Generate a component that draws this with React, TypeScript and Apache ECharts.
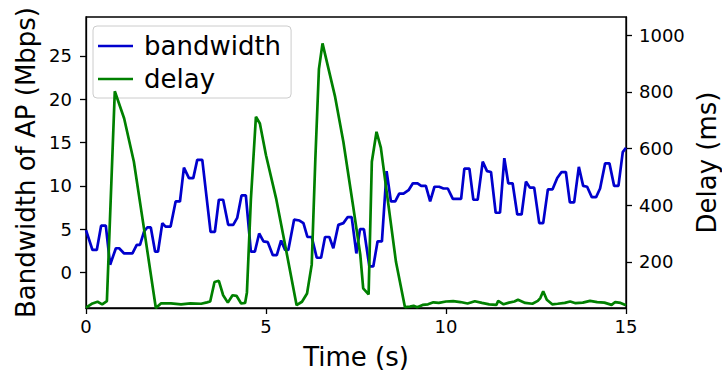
import React, { useEffect, useRef } from "react";
import * as echarts from "echarts";

// Bandwidth (Mbps) samples
const bwTime = [0,0.18,0.30,0.42,0.55,0.67,0.83,0.92,1.06,1.29,1.41,1.50,1.61,1.70,1.80,1.92,2.00,2.12,2.21,2.35,2.49,2.61,2.72,2.86,2.98,3.09,3.23,3.46,3.58,3.69,3.81,3.95,4.09,4.20,4.32,4.44,4.58,4.69,4.81,4.93,5.05,5.19,5.30,5.42,5.53,5.62,5.78,5.93,6.04,6.15,6.27,6.41,6.53,6.64,6.76,6.87,7.01,7.15,7.27,7.38,7.51,7.61,7.72,7.87,7.98,8.10,8.22,8.35,8.47,8.59,8.70,8.82,8.96,9.08,9.21,9.31,9.44,9.56,9.68,9.81,9.93,10.05,10.19,10.42,10.51,10.65,10.76,10.88,11.02,11.14,11.25,11.38,11.50,11.62,11.73,11.85,11.98,12.10,12.22,12.33,12.45,12.59,12.70,12.83,12.96,13.09,13.21,13.33,13.44,13.56,13.69,13.81,13.92,14.05,14.17,14.28,14.42,14.54,14.67,14.79,14.91,15.00];
const bwValues = [4.9,2.6,2.6,5.4,5.4,0.9,2.8,2.8,2.2,2.2,3.2,3.2,4.7,5.2,5.2,2.4,2.4,5.7,5.3,5.3,8.2,8.2,12.1,10.9,10.9,13.0,13.0,4.7,4.7,8.4,8.4,5.5,5.5,6.3,8.9,8.9,2.4,2.4,4.5,3.6,3.5,2.0,2.0,3.7,2.6,2.6,6.1,6.0,5.7,4.1,4.1,1.7,1.7,4.1,4.1,2.8,5.5,5.7,6.4,6.4,2.2,5.0,5.0,0.7,0.7,3.6,3.6,11.7,8.2,8.2,9.1,9.1,9.5,10.3,10.3,10.0,10.0,8.2,9.9,9.9,9.7,9.7,8.5,8.5,12.0,12.0,8.4,8.4,12.8,11.7,11.6,6.9,6.9,13.2,10.3,10.3,6.7,6.7,10.5,9.8,9.8,5.7,5.7,9.6,9.6,10.9,11.6,11.6,8.1,8.1,12.2,10.0,9.9,8.7,8.7,9.7,12.6,12.6,10.0,10.0,13.9,14.4];

// Delay (ms) samples
const delayTime = [0.00,0.18,0.32,0.45,0.58,0.80,1.06,1.33,1.61,1.94,2.08,2.36,2.64,2.90,3.20,3.36,3.45,3.57,3.69,3.81,3.94,4.07,4.18,4.31,4.42,4.47,4.58,4.72,4.83,5.00,5.28,5.55,5.85,6.00,6.14,6.27,6.37,6.47,6.57,6.92,7.15,7.43,7.62,7.70,7.85,7.94,8.07,8.19,8.37,8.61,8.86,9.00,9.10,9.20,9.35,9.50,9.65,9.80,10.00,10.20,10.40,10.60,10.80,11.00,11.20,11.40,11.45,11.60,11.75,11.90,12.00,12.20,12.40,12.55,12.62,12.70,12.80,12.95,13.10,13.30,13.45,13.60,13.80,14.00,14.20,14.40,14.60,14.70,14.85,15.00];
const delayValues = [38,53,59,50,61,802,706,553,318,37,53,53,50,53,52,57,60,129,133,82,56,82,80,53,55,92,420,712,688,576,424,247,47,59,88,190,560,880,971,782,623,388,224,106,85,553,659,603,430,200,40,42,45,40,48,50,57,55,60,61,58,53,61,55,50,48,62,50,56,60,66,55,52,62,72,96,66,50,52,55,60,54,56,62,58,56,48,58,55,47];

const xTicks = [0, 5, 10, 15];
const bwTicks = [0, 5, 10, 15, 20, 25];
const delayTicks = [200, 400, 600, 800, 1000];

const FONT = "DejaVu Sans";

export default function App() {
  const ref = useRef<HTMLDivElement>(null);
  useEffect(() => {
    if (!ref.current) return;
    const chart = echarts.init(ref.current, null, { renderer: "svg" });
    const axisLineStyle = { color: "#000", width: 1.3 };
    chart.setOption({
      animation: false,
      backgroundColor: "#fff",
      grid: {
        left: 86,
        right: 96,
        top: 17,
        bottom: 68,
        show: true,
        borderColor: "#000",
        borderWidth: 1.3,
        containLabel: false,
        outerBoundsMode: "none",
      },
      legend: {
        orient: "vertical",
        left: 93,
        top: 26,
        icon: "rect",
        itemWidth: 35,
        itemHeight: 2.7,
        itemGap: 5,
        padding: [6, 10, 5, 5],
        backgroundColor: "rgba(255,255,255,0.8)",
        borderColor: "#cccccc",
        borderWidth: 1,
        borderRadius: 4,
        z: 4,
        textStyle: {
          fontFamily: FONT,
          fontSize: 26,
          color: "#000",
          lineHeight: 28,
          padding: [0, 0, 0, 6],
        },
        data: ["bandwidth", "delay"],
      },
      xAxis: {
        type: "value",
        min: xTicks[0],
        max: xTicks[xTicks.length - 1],
        interval: 5,
        name: "Time (s)",
        nameLocation: "middle",
        nameGap: 36,
        nameMoveOverlap: false,
        nameTextStyle: { fontFamily: FONT, fontSize: 26, color: "#000" },
        axisLine: { show: true, onZero: false, lineStyle: axisLineStyle },
        axisTick: { show: true, inside: false, length: 6, lineStyle: axisLineStyle },
        axisLabel: { fontFamily: FONT, fontSize: 18, color: "#000", margin: 9 },
        splitLine: { show: false },
      },
      yAxis: [
        {
          type: "value",
          position: "left",
          min: -4.1,
          max: 29.5,
          name: "Bandwidth of AP (Mbps)",
          nameLocation: "middle",
          nameGap: 47,
          nameMoveOverlap: false,
          nameTextStyle: { fontFamily: FONT, fontSize: 26, color: "#000" },
          axisLine: { show: true, onZero: false, lineStyle: axisLineStyle },
          axisTick: { show: true, inside: false, length: 6, lineStyle: axisLineStyle, customValues: bwTicks },
          axisLabel: { fontFamily: FONT, fontSize: 18, color: "#000", margin: 14, customValues: bwTicks },
          splitLine: { show: false },
        },
        {
          type: "value",
          position: "right",
          min: 37,
          max: 1064,
          name: "Delay (ms)",
          nameLocation: "middle",
          nameGap: 68,
          nameMoveOverlap: false,
          nameTextStyle: { fontFamily: FONT, fontSize: 26, color: "#000" },
          axisLine: { show: true, onZero: false, lineStyle: axisLineStyle },
          axisTick: { show: true, inside: false, length: 6, lineStyle: axisLineStyle, customValues: delayTicks },
          axisLabel: {
            fontFamily: FONT,
            fontSize: 18,
            color: "#000",
            margin: 13,
            customValues: delayTicks,
            formatter: (v: number) => String(v),
          },
          splitLine: { show: false },
        },
      ],
      series: [
        {
          name: "bandwidth",
          type: "line",
          yAxisIndex: 0,
          data: bwTime.map((t, i) => [t, bwValues[i]]),
          symbol: "none",
          showSymbol: false,
          lineStyle: { color: "#0000cd", width: 2.7 },
          itemStyle: { color: "#0000cd" },
          z: 2,
        },
        {
          name: "delay",
          type: "line",
          yAxisIndex: 1,
          data: delayTime.map((t, i) => [t, delayValues[i]]),
          symbol: "none",
          showSymbol: false,
          lineStyle: { color: "#008000", width: 2.7 },
          itemStyle: { color: "#008000" },
          z: 5,
        },
      ],
    });
    return () => chart.dispose();
  }, []);
  return <div ref={ref} style={{ width: 722, height: 376, position: "fixed", left: 0, top: 0 }} />;
}
